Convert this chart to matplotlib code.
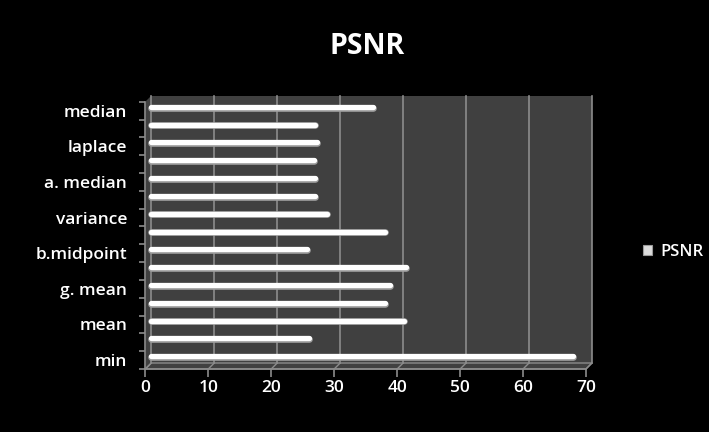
import matplotlib
matplotlib.use("Agg")
import matplotlib.pyplot as plt
from matplotlib.patches import Polygon, Patch

plt.rcParams['font.family'] = ['Open Sans', 'DejaVu Sans']

# PSNR per method, listed bottom to top; only every other row carries a label
labels = ["min", "", "mean", "", "g. mean", "", "b.midpoint", "",
          "variance", "", "a. median", "", "laplace", "", "median"]
psnr = [68.0, 26.0, 41.1, 38.0, 38.8, 41.4, 25.7, 38.1,
        28.9, 27.0, 26.9, 26.8, 27.2, 26.9, 36.2]
xticks = [0, 10, 20, 30, 40, 50, 60, 70]

W, H = 709, 432
fig = plt.figure(figsize=(W / 100, H / 100), dpi=100, facecolor='black')
# front plane of the pseudo-3d box
ax = fig.add_axes([145.3 / W, 1 - 369 / H, 440.7 / W, 267.3 / H])
ax.set_facecolor('none')
ax.set_xlim(0, 70)
ax.set_ylim(-0.5, len(psnr) - 0.5)

# pixel -> data unit conversions for the depth offsets
px_x = 70 / 440.7
px_y = len(psnr) / 267.3
depth_x, depth_y = 6 * px_x, 6 * px_y      # back wall
mid_x, mid_y = 3 * px_x, 3.5 * px_y        # bars sit halfway in

y0, y1 = -0.5, len(psnr) - 0.5
wall_c = '#404040'
line_c = '#8c8c8c'

# back wall
ax.add_patch(Polygon([(depth_x, y0 + depth_y), (70 + depth_x, y0 + depth_y),
                      (70 + depth_x, y1 + depth_y), (depth_x, y1 + depth_y)],
                     closed=True, facecolor=wall_c, edgecolor='none', zorder=0, clip_on=False))
# floor
ax.add_patch(Polygon([(0, y0), (70, y0), (70 + depth_x, y0 + depth_y), (depth_x, y0 + depth_y)],
                     closed=True, facecolor=wall_c, edgecolor=line_c, lw=1, zorder=1, clip_on=False))
# side wall
ax.add_patch(Polygon([(0, y0), (depth_x, y0 + depth_y), (depth_x, y1 + depth_y), (0, y1)],
                     closed=True, facecolor=wall_c, edgecolor='none', zorder=0, clip_on=False))

# gridlines on the back wall and the diagonals across the floor
for t in xticks:
    ax.plot([t + depth_x, t + depth_x], [y0 + depth_y, y1 + depth_y], color=line_c, lw=1.2,
            zorder=1, clip_on=False)
    ax.plot([t, t + depth_x], [y0, y0 + depth_y], color=line_c, lw=1, zorder=1, clip_on=False)

# bars: rounded cylinders
rad = 3 * px_x
for i, v in enumerate(psnr):
    xs = [mid_x + rad, v + mid_x - rad]
    ys = [i + mid_y, i + mid_y]
    ax.plot(xs, [y - 0.4 * px_y for y in ys], color='#a0a0a0', lw=4.8,
            solid_capstyle='round', zorder=3, clip_on=False)
    ax.plot(xs, [y + 0.3 * px_y for y in ys], color='white', lw=3.8,
            solid_capstyle='round', zorder=4, clip_on=False)

# front axes lines
ax.plot([0, 0], [y0, y1], color=line_c, lw=1.2, zorder=2, clip_on=False)
ax.plot([0, 70], [y0, y0], color=line_c, lw=1.2, zorder=2, clip_on=False)

for s in ax.spines.values():
    s.set_visible(False)

ax.set_xticks(xticks)
ax.set_xticklabels([str(t) for t in xticks], color='white', fontsize=12.5, fontweight='semibold')
ax.tick_params(axis='x', length=6, width=1.2, color=line_c, pad=2)

ax.set_yticks(range(len(psnr)))
ax.set_yticklabels(labels, color='white', fontsize=12.5, fontweight='semibold')
ax.tick_params(axis='y', length=0, pad=13)
ax.set_yticks([k + 0.5 for k in range(-1, len(psnr))], minor=True)
ax.tick_params(axis='y', which='minor', length=4, width=1.2, color=line_c)

fig.text(367 / W, 1 - 46 / H, "PSNR", color='white', fontsize=20.5,
         fontweight='bold', ha='center', va='center')

handle = Patch(facecolor='#dcdcdc', edgecolor='#9a9a9a', lw=0.8)
fig.legend([handle], ["PSNR"], loc='center left', bbox_to_anchor=(628 / W, 1 - 252 / H),
           frameon=False, fontsize=12, handlelength=0.55, handleheight=0.55,
           handletextpad=0.5, labelcolor='white', prop={'weight': 'semibold', 'size': 12})

fig.savefig("out.png", dpi=100, facecolor='black')
